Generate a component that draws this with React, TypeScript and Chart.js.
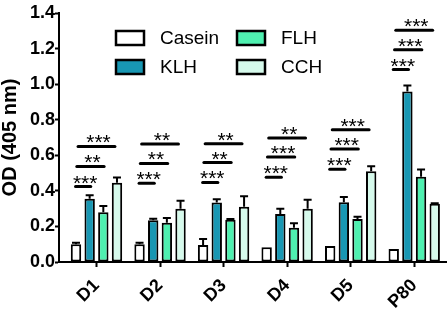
import React, { useEffect, useRef } from "react";
import { Chart, registerables } from "chart.js";

Chart.register(...registerables);

const categories = ["D1", "D2", "D3", "D4", "D5", "P80"];
const seriesNames = ["Casein", "KLH", "FLH", "CCH"];
const seriesColors = ["#ffffff", "#1897b3", "#4ff0b0", "#d6faec"];

const caseinValues = [0.1, 0.1, 0.095, 0.083, 0.09, 0.073];
const klhValues = [0.355, 0.235, 0.335, 0.27, 0.336, 0.958];
const flhValues = [0.28, 0.22, 0.237, 0.193, 0.242, 0.48];
const cchValues = [0.445, 0.3, 0.31, 0.3, 0.51, 0.327];

const caseinErrors = [0.008, 0.008, 0.035, 0, 0, 0];
const klhErrors = [0.02, 0.008, 0.018, 0.03, 0.03, 0.035];
const flhErrors = [0.035, 0.028, 0.005, 0.025, 0.012, 0.04];
const cchErrors = [0.03, 0.045, 0.06, 0.05, 0.028, 0.003];

const yTicks = [0, 0.2, 0.4, 0.6, 0.8, 1.0, 1.2, 1.4];

// significance: [vs KLH, vs FLH, vs CCH] per category
const sigLabels = [
  ["***", "**", "***"],
  ["***", "**", "**"],
  ["***", "**", "**"],
  ["***", "***", "**"],
  ["***", "***", "***"],
  ["***", "***", "***"],
];
const sigHeights = [
  [0.424, 0.537, 0.65],
  [0.443, 0.554, 0.663],
  [0.447, 0.559, 0.665],
  [0.477, 0.59, 0.697],
  [0.522, 0.635, 0.744],
  [1.082, 1.194, 1.303],
];

const allValues = [caseinValues, klhValues, flhValues, cchValues];
const allErrors = [caseinErrors, klhErrors, flhErrors, cchErrors];

const FONT = "'Liberation Sans', Arial, sans-serif";

const errorBarPlugin = {
  id: "errorBars",
  afterDatasetsDraw(chart: any) {
    const ctx = chart.ctx;
    const yScale = chart.scales.y;
    ctx.save();
    ctx.strokeStyle = "#000";
    ctx.lineWidth = 2;
    chart.data.datasets.forEach((ds: any, di: number) => {
      const meta = chart.getDatasetMeta(di);
      meta.data.forEach((el: any, i: number) => {
        const err = allErrors[di][i];
        if (!err) return;
        const top = yScale.getPixelForValue(allValues[di][i] + err);
        ctx.beginPath();
        ctx.moveTo(el.x, el.y);
        ctx.lineTo(el.x, top);
        ctx.moveTo(el.x - 4, top);
        ctx.lineTo(el.x + 4, top);
        ctx.stroke();
      });
    });
    ctx.restore();
  },
};

const sigSpans = [
  [-0.33, -0.09],
  [-0.31, 0.12],
  [-0.29, 0.29],
];

const significancePlugin = {
  id: "significance",
  afterDatasetsDraw(chart: any) {
    const ctx = chart.ctx;
    const xs = chart.scales.x;
    const ys = chart.scales.y;
    ctx.save();
    ctx.strokeStyle = "#000";
    ctx.fillStyle = "#000";
    ctx.lineWidth = 3;
    ctx.lineCap = "round";
    ctx.font = `21px ${FONT}`;
    ctx.textAlign = "center";
    ctx.textBaseline = "alphabetic";
    categories.forEach((_, ci) => {
      sigLabels[ci].forEach((label, li) => {
        const y = ys.getPixelForValue(sigHeights[ci][li]);
        const x1 = xs.getPixelForValue(ci + sigSpans[li][0]);
        const x2 = xs.getPixelForValue(ci + sigSpans[li][1]);
        ctx.beginPath();
        ctx.moveTo(x1, y);
        ctx.lineTo(x2, y);
        ctx.stroke();
        ctx.fillText(label, (x1 + x2) / 2 + 2, y + 3);
      });
    });
    ctx.restore();
  },
};

const legendPlugin = {
  id: "customLegend",
  afterDraw(chart: any) {
    const ctx = chart.ctx;
    const cols = [116, 237];
    const rows = [38, 67];
    ctx.save();
    ctx.font = `19px ${FONT}`;
    ctx.textBaseline = "middle";
    ctx.textAlign = "left";
    chart.data.datasets.forEach((ds: any, i: number) => {
      const cx = cols[Math.floor(i / 2)];
      const cy = rows[i % 2];
      ctx.fillStyle = ds.backgroundColor;
      ctx.fillRect(cx, cy - 7, 28, 14);
      ctx.strokeStyle = "#000";
      ctx.lineWidth = 2.5;
      ctx.strokeRect(cx, cy - 7, 28, 14);
      ctx.fillStyle = "#000";
      ctx.fillText(ds.label, cx + 44, cy + 1);
    });
    ctx.restore();
  },
};

export default function App() {
  const canvasRef = useRef<HTMLCanvasElement | null>(null);

  useEffect(() => {
    if (!canvasRef.current) return;
    const chart = new Chart(canvasRef.current, {
      type: "bar",
      data: {
        datasets: seriesNames.map((name, si) => ({
          label: name,
          data: categories.map((_, i) => ({ x: i, y: allValues[si][i] })),
          backgroundColor: seriesColors[si],
          borderColor: "#000",
          borderWidth: 2,
          borderSkipped: false,
          categoryPercentage: 0.86,
          barPercentage: 0.76,
        })),
      },
      options: {
        animation: false,
        responsive: false,
        layout: { autoPadding: false, padding: { left: 0, top: 13, right: 2, bottom: 0 } },
        plugins: { legend: { display: false }, tooltip: { enabled: false } },
        scales: {
          x: {
            type: "linear",
            offset: false,
            min: -0.59,
            max: 5.5,
            afterBuildTicks: (scale: any) => {
              scale.ticks = categories.map((_, i) => ({ value: i }));
            },
            afterFit: (scale: any) => {
              scale.height = 52;
            },
            grid: {
              offset: false,
              drawOnChartArea: false,
              drawTicks: true,
              tickLength: 5,
              tickColor: "#000",
              tickWidth: 2,
            },
            border: { display: true, color: "#000", width: 2 },
            ticks: {
              autoSkip: false,
              minRotation: 45,
              maxRotation: 45,
              padding: 8,
              color: "#000",
              font: { family: FONT, size: 18, weight: "bold" },
              callback: (v: any) => categories[v as number],
            },
          },
          y: {
            min: 0,
            max: 1.4,
            afterBuildTicks: (scale: any) => {
              scale.ticks = yTicks.map((v) => ({ value: v }));
            },
            afterFit: (scale: any) => {
              scale.width = 59;
            },
            grid: {
              drawOnChartArea: false,
              drawTicks: true,
              tickLength: 4,
              tickColor: "#000",
              tickWidth: 2,
            },
            border: { display: true, color: "#000", width: 2 },
            ticks: {
              padding: 0,
              color: "#000",
              font: { family: FONT, size: 18, weight: "bold" },
              callback: (v: any) => Number(v).toFixed(1),
            },
            title: {
              display: true,
              text: "OD (405 nm)",
              color: "#000",
              padding: { top: 0, bottom: 0 },
              font: { family: FONT, size: 20, weight: "bold", lineHeight: 1 },
            },
          },
        },
      },
      plugins: [errorBarPlugin, significancePlugin, legendPlugin],
    } as any);
    return () => chart.destroy();
  }, []);

  return (
    <div style={{ position: "fixed", left: 0, top: 0, width: 448, height: 314, background: "#fff" }}>
      <canvas ref={canvasRef} width={448} height={314} style={{ display: "block" }} />
    </div>
  );
}
